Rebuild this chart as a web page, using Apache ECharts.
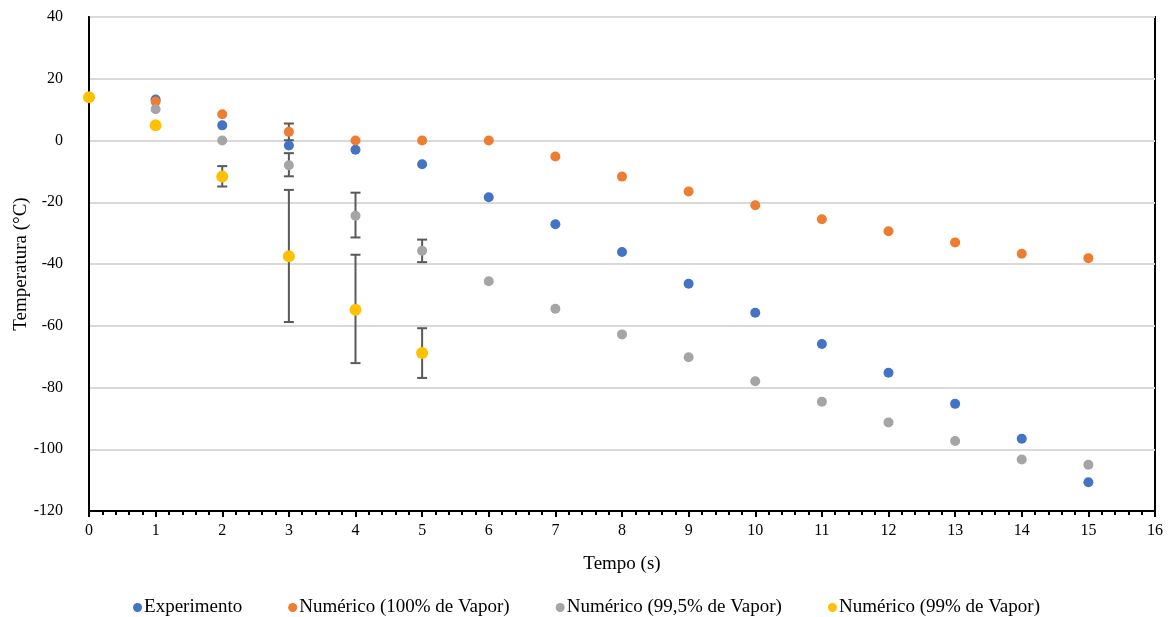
<!DOCTYPE html>
<html lang="pt">
<head>
    <meta charset="UTF-8">
    <script src="https://cdn.jsdelivr.net/npm/echarts@6/dist/echarts.min.js"></script>
    <style>
        html, body { margin: 0; padding: 0; background: #fff; }
        #grafico { width: 1173px; height: 617px; }
    </style>
</head>
<body>
<div id="grafico"></div>
<script>
    // dados
    var tempo = [0, 1, 2, 3, 4, 5, 6, 7, 8, 9, 10, 11, 12, 13, 14, 15];
    var experimento = [14, 13.3, 4.9, -1.6, -3.0, -7.7, -18.4, -27.1, -36.1, -46.4, -55.8, -65.9, -75.2, -85.3, -96.6, -110.7];
    var num100 = [14, 12.6, 8.5, 2.8, 0, 0, 0, -5.2, -11.7, -16.5, -21.0, -25.5, -29.4, -33.0, -36.7, -38.1];
    var num995 = [14, 10.1, 0, -8.0, -24.4, -35.7, -45.6, -54.5, -62.8, -70.2, -78.0, -84.6, -91.3, -97.3, -103.3, -105.0];
    var num99 = [14, 4.9, -11.7, -37.5, -54.8, -68.8];

    // barras de erro: [tempo, minimo, maximo]
    var erro100 = [[3, 0.1, 5.5]];
    var erro995 = [[3, -11.6, -4.1], [4, -31.4, -16.9], [5, -39.4, -32.1]];
    var erro99 = [[2, -14.9, -8.3], [3, -58.8, -16.0], [4, -72.1, -37.0], [5, -76.9, -60.8]];

    var nomes = ['Experimento', 'Numérico (100% de Vapor)', 'Numérico (99,5% de Vapor)', 'Numérico (99% de Vapor)'];
    var cores = ['#4472C4', '#ED7D31', '#A5A5A5', '#FFC000'];
    var tamanhos = [10, 10, 10, 12];

    var fonte = 'Liberation Serif, Times New Roman, serif';

    function pares(ys) {
        var r = [];
        for (var i = 0; i < ys.length; i++) r.push([tempo[i], ys[i]]);
        return r;
    }

    function barraErro(params, api) {
        var x = api.value(0);
        var baixo = api.coord([x, api.value(1)]);
        var alto = api.coord([x, api.value(2)]);
        var meia = 5;
        var estilo = { stroke: '#595959', lineWidth: 2 };
        return {
            type: 'group',
            children: [
                { type: 'line', shape: { x1: alto[0], y1: alto[1], x2: baixo[0], y2: baixo[1] }, style: estilo },
                { type: 'line', shape: { x1: alto[0] - meia, y1: alto[1], x2: alto[0] + meia, y2: alto[1] }, style: estilo },
                { type: 'line', shape: { x1: baixo[0] - meia, y1: baixo[1], x2: baixo[0] + meia, y2: baixo[1] }, style: estilo }
            ]
        };
    }

    var chart = echarts.init(document.getElementById('grafico'));

    var series = [];
    [erro100, erro995, erro99].forEach(function (d) {
        series.push({
            type: 'custom',
            renderItem: barraErro,
            data: d,
            z: 1,
            silent: true
        });
    });
    var valores = [pares(experimento), pares(num100), pares(num995), pares(num99)];
    for (var i = 0; i < nomes.length; i++) {
        series.push({
            name: nomes[i],
            type: 'scatter',
            // em t=0 só aparece o ponto amarelo
            data: valores[i].filter(function (p, k) { return i === 3 || k > 0; }),
            symbol: 'circle',
            symbolSize: tamanhos[i],
            itemStyle: { color: cores[i], opacity: 1 },
            z: 2 + i
        });
    }

    var option = {
        animation: false,
        color: cores,
        textStyle: { fontFamily: fonte, color: '#000' },
        grid: {
            left: 89,
            right: 18,
            top: 17,
            bottom: 106,
            outerBoundsMode: 'none',
            containLabel: false,
            show: true,
            borderColor: '#000',
            borderWidth: 2,
            backgroundColor: '#fff'
        },
        legend: {
            data: nomes,
            top: 593,
            left: 'center',
            icon: 'circle',
            itemWidth: 9,
            itemHeight: 9,
            itemGap: 46,
            textStyle: { fontFamily: fonte, fontSize: 19, color: '#000', padding: [0, 0, 0, -3] }
        },
        xAxis: {
            type: 'value',
            min: 0,
            max: 16,
            interval: 1,
            name: 'Tempo (s)',
            nameLocation: 'middle',
            nameGap: 44,
            nameMoveOverlap: false,
            nameTextStyle: { fontFamily: fonte, fontSize: 19, color: '#000' },
            axisLine: { show: true, onZero: false, lineStyle: { color: '#000', width: 2 } },
            axisTick: { show: true, inside: false, length: 6, lineStyle: { color: '#000', width: 2 } },
            minorTick: { show: true, splitNumber: 5, length: 4, lineStyle: { color: '#000', width: 2 } },
            axisLabel: { fontFamily: fonte, fontSize: 16, color: '#000', margin: 12 },
            splitLine: { show: false }
        },
        yAxis: {
            type: 'value',
            min: -120,
            max: 40,
            interval: 20,
            name: 'Temperatura (°C)',
            nameLocation: 'middle',
            nameGap: 58,
            nameMoveOverlap: false,
            nameTextStyle: { fontFamily: fonte, fontSize: 19, color: '#000' },
            axisLine: { show: true, onZero: false, lineStyle: { color: '#000', width: 2 } },
            axisTick: { show: false },
            axisLabel: { fontFamily: fonte, fontSize: 16, color: '#000', margin: 26 },
            splitLine: { show: true, lineStyle: { color: '#D9D9D9', width: 2 } }
        },
        series: series
    };

    chart.setOption(option);
</script>
</body>
</html>
